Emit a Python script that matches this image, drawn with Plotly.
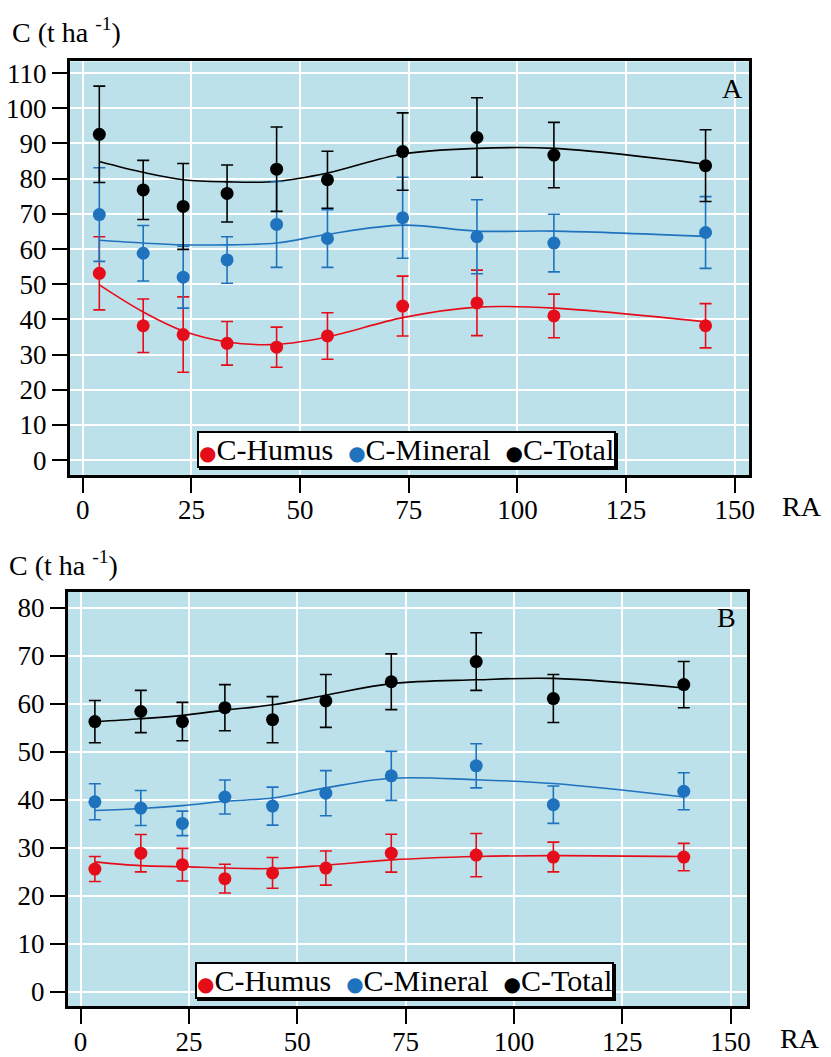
import plotly.graph_objects as go

# ---------------- Data: panel A ----------------
xA = [3.8, 13.9, 23.1, 33.2, 44.6, 56.3, 73.6, 90.7, 108.4, 143.3]
humusA = [53.1, 38.2, 35.7, 33.2, 32.1, 35.3, 43.8, 44.7, 41.0, 38.2]
humusA_err = [10.4, 7.6, 10.7, 6.2, 5.7, 6.6, 8.5, 9.3, 6.2, 6.3]
mineralA = [69.8, 58.8, 52.0, 56.9, 67.0, 63.0, 68.9, 63.5, 61.7, 64.7]
mineralA_err = [13.3, 7.9, 8.8, 6.6, 12.2, 8.2, 11.5, 10.5, 8.2, 10.2]
totalA = [92.6, 76.8, 72.1, 75.8, 82.7, 79.7, 87.7, 91.7, 86.7, 83.7]
totalA_err = [13.7, 8.4, 12.2, 8.1, 12.0, 8.1, 11.0, 11.3, 9.3, 10.2]
# smoothed curves (read at each x)
humusA_fit = [49.8, 42.1, 36.7, 33.6, 32.9, 35.0, 40.5, 43.5, 43.2, 39.3]
mineralA_fit = [62.5, 61.7, 61.2, 61.2, 61.7, 64.2, 66.8, 65.1, 65.1, 63.6]
totalA_fit = [84.9, 81.8, 79.7, 79.1, 79.2, 81.6, 87.0, 88.6, 88.6, 84.1]

# ---------------- Data: panel B ----------------
xB = [3.3, 13.9, 23.5, 33.3, 44.3, 56.6, 71.7, 91.3, 109.1, 139.2]
humusB = [25.6, 28.9, 26.5, 23.6, 24.8, 25.8, 28.9, 28.5, 28.1, 28.1]
humusB_err = [2.6, 3.9, 3.4, 3.0, 3.2, 3.55, 3.95, 4.5, 3.1, 2.85]
mineralB = [39.6, 38.3, 35.1, 40.6, 38.7, 41.4, 45.0, 47.1, 39.0, 41.8]
mineralB_err = [3.75, 3.65, 2.55, 3.55, 3.95, 4.7, 5.1, 4.6, 3.9, 3.85]
totalB = [56.3, 58.4, 56.3, 59.2, 56.7, 60.6, 64.6, 68.8, 61.1, 64.0]
totalB_err = [4.4, 4.4, 4.0, 4.8, 4.8, 5.5, 5.8, 6.0, 5.0, 4.8]
humusB_fit = [27.1, 26.3, 26.1, 25.8, 25.7, 26.4, 27.5, 28.2, 28.4, 28.2]
mineralB_fit = [37.8, 38.2, 38.8, 39.7, 40.4, 42.5, 44.5, 44.2, 43.4, 40.6]
totalB_fit = [56.3, 56.9, 57.6, 58.7, 59.8, 61.8, 64.2, 65.0, 65.3, 63.3]

x_ticks = [0, 25, 50, 75, 100, 125, 150]
yA_ticks = list(range(0, 111, 10))
yB_ticks = list(range(0, 81, 10))
series_names = ["C-Humus", "C-Mineral", "C-Total"]

RED = "#E60D1A"
BLUE = "#1F73BE"
BLACK = "#000000"
BG = "#BDE1EA"
FONT = "Liberation Serif"

W, H = 831, 1057
fig = go.Figure()


def add_panel(x, vals, errs, fits, xa, ya):
    colors = [RED, BLUE, BLACK]
    for fit, c in zip(fits, colors):
        fig.add_trace(go.Scatter(
            x=x, y=fit, mode="lines", line=dict(color=c, width=1.6, shape="spline", smoothing=1.0),
            xaxis=xa, yaxis=ya, showlegend=False, hoverinfo="skip"))
    for v, e, c, n in zip(vals, errs, colors, series_names):
        fig.add_trace(go.Scatter(
            x=x, y=v, mode="markers", name=n, showlegend=False,
            marker=dict(color=c, size=13),
            error_y=dict(type="data", array=e, visible=True, color=c, thickness=1.6, width=6),
            xaxis=xa, yaxis=ya))


add_panel(xA, [humusA, mineralA, totalA], [humusA_err, mineralA_err, totalA_err],
          [humusA_fit, mineralA_fit, totalA_fit], "x", "y")
add_panel(xB, [humusB, mineralB, totalB], [humusB_err, mineralB_err, totalB_err],
          [humusB_fit, mineralB_fit, totalB_fit], "x2", "y2")


def px_x(p):
    return p / W


def px_y(p):
    return 1 - p / H


axis_common = dict(
    showline=True, mirror=True, linecolor="black", linewidth=2.5,
    ticks="outside", ticklen=15, tickwidth=2, tickcolor="black",
    showgrid=True, gridcolor="white", gridwidth=2, zeroline=False,
    tickfont=dict(family=FONT, size=27, color="black"),
)
xaxis_extra = dict(ticklabelstandoff=-6)

fig.update_layout(
    width=W, height=H,
    margin=dict(l=0, r=0, t=0, b=0),
    paper_bgcolor="white", plot_bgcolor=BG,
    showlegend=False,
    xaxis=dict(domain=[px_x(70), px_x(754)], range=[-3.04, 153.4], tickvals=x_ticks,
               anchor="y", **axis_common, **xaxis_extra),
    yaxis=dict(domain=[px_y(476), px_y(59)], range=[-4.2, 113.3], tickvals=yA_ticks,
               anchor="x", **axis_common),
    xaxis2=dict(domain=[px_x(68), px_x(752)], range=[-3.0, 153.9], tickvals=x_ticks,
                anchor="y2", **axis_common, **xaxis_extra),
    yaxis2=dict(domain=[px_y(1012), px_y(594)], range=[-3.0, 83.3], tickvals=yB_ticks,
                anchor="x2", **axis_common),
)

ann_font = dict(family=FONT, size=28, color="black")
annotations = [
    dict(text="C (t ha <sup>-1</sup>)", x=px_x(10), y=px_y(28), xanchor="left", yanchor="middle"),
    dict(text="C (t ha <sup>-1</sup>)", x=px_x(7), y=px_y(565), xanchor="left", yanchor="middle"),
    dict(text="A", x=px_x(737), y=px_y(86), xanchor="center", yanchor="middle"),
    dict(text="B", x=px_x(731), y=px_y(620), xanchor="center", yanchor="middle"),
    dict(text="RA", x=px_x(807), y=px_y(508), xanchor="center", yanchor="middle"),
    dict(text="RA", x=px_x(805), y=px_y(1044), xanchor="center", yanchor="middle"),
]
for a in annotations:
    fig.add_annotation(xref="paper", yref="paper", showarrow=False, font=ann_font, **a)

# legend boxes (text legend with coloured bullets and a drop shadow)
colors = [RED, BLUE, BLACK]
bullet = "<span style='font-family:DejaVu Sans;font-size:20px;color:{c}'>\u25CF</span>"
sep = "\u00A0 "
legend_html = sep.join(bullet.format(c=c) + n for c, n in zip(colors, series_names))
legend_shadow = sep.join("<span style='font-family:DejaVu Sans;font-size:20px'>\u25CF</span>" + n
                         for n in series_names)
for cx, cy in [(408.5, 450), (406.5, 985.5)]:
    fig.add_annotation(xref="paper", yref="paper", showarrow=False, x=px_x(cx), y=px_y(cy),
                       xanchor="center", yanchor="middle", xshift=2, yshift=-2,
                       text=legend_shadow, font=dict(family=FONT, size=30, color="black"),
                       bgcolor="black", bordercolor="black", borderwidth=2, borderpad=0)
    fig.add_annotation(xref="paper", yref="paper", showarrow=False, x=px_x(cx), y=px_y(cy),
                       xanchor="center", yanchor="middle",
                       text=legend_html, font=dict(family=FONT, size=30, color="black"),
                       bgcolor="white", bordercolor="black", borderwidth=2, borderpad=0)

fig.write_html("out.html", config={"displayModeBar": False},
               post_script="document.body.style.margin='0';document.body.style.overflow='hidden';")
